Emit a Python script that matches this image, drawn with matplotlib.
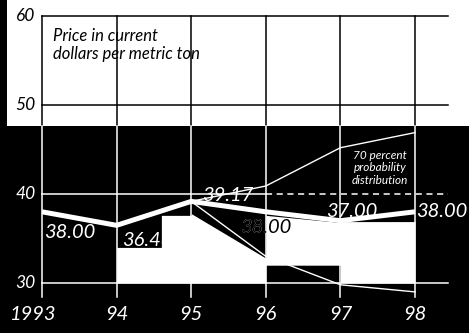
import matplotlib
matplotlib.use('Agg')
import matplotlib.pyplot as plt
from matplotlib import font_manager
from matplotlib.patches import Rectangle

# 选一个有斜体的字体
italic_family = 'DejaVu Sans'
for fam in ['Lato', 'Open Sans', 'Roboto', 'Noto Sans']:
    if any(f.name == fam and f.style == 'italic' for f in font_manager.fontManager.ttflist):
        italic_family = fam
        break
plt.rcParams['font.family'] = [italic_family, 'DejaVu Sans']
plt.rcParams['font.style'] = 'italic'

# 数据
years = [1993, 1994, 1995, 1996, 1997, 1998]
year_labels = ['1993', '94', '95', '96', '97', '98']
price = [38.00, 36.48, 39.17, 38.00, 37.00, 38.00]
price_labels = ['38.00', '36.48', '39.17', '38.00', '37.00', '38.00']
y_ticks = [30, 40, 50, 60]

# 70% 概率分布上下界
band_years = [1995, 1996, 1997, 1998]
band_upper = [39.17, 40.9, 45.2, 46.9]
band_lower = [39.17, 33.0, 29.8, 29.0]

# 扫描件中的白色块
shade_x = [1994.0, 1994.6, 1994.6, 1995.0, 1995.0, 1996.0, 1996.0, 1997.0, 1997.0, 1998.0]
shade_top = [34.0, 34.0, 37.6, 37.6, 37.8, 32.8, 37.6, 36.8, 36.9, 36.9]
shade_bottom = [30.0, 30.0, 30.0, 30.0, 30.0, 30.0, 32.0, 32.0, 30.0, 30.0]

# 标签偏移 (points)
label_offsets = [(20, -15), (22, -11), (26, 4), (0, -11.5), (8, 6.5), (19, 0)]

x_lo, x_hi = 1992.437, 1998.724
y_lo, y_hi = 24.382, 61.798
dark_top = 47.64

fig = plt.figure(figsize=(4.69, 3.33), dpi=100)
ax = fig.add_axes([0, 0, 1, 1])
ax.set_xlim(x_lo, x_hi)
ax.set_ylim(y_lo, y_hi)
ax.axis('off')

# 背景: 下半部分黑色, 左侧黑条
ax.axhspan(y_lo, dark_top, color='black', lw=0, zorder=0)
ax.axvspan(x_lo, x_lo + 0.094, ymin=(dark_top - y_lo) / (y_hi - y_lo), ymax=1,
           color='black', lw=0, zorder=0)

# 网格线
grid_right = 1998.44
for yv in y_ticks:
    c = 'black' if yv > dark_top else 'white'
    if yv == 40:
        ax.plot([years[0], 1996.0], [yv, yv], color=c, lw=1.1, zorder=1)
        ax.plot([1996.0, grid_right], [yv, yv], color=c, lw=1.1, ls=(0, (4, 3)), zorder=1)
    else:
        ax.plot([years[0], grid_right], [yv, yv], color=c, lw=1.1, zorder=1)
    ax.text(years[0] - 0.09, yv, str(yv), color=c, fontsize=12.5,
            ha='right', va='center')

for yr in years:
    ax.plot([yr, yr], [dark_top, 60], color='black', lw=1.1, zorder=1)
    ax.plot([yr, yr], [28.4, dark_top], color='white', lw=1.1, zorder=1)

# x 轴标签
for yr, lab in zip(years, year_labels):
    xx = yr - 0.12 if lab == '1993' else yr
    ax.text(xx, 26.5, lab, color='white', fontsize=14.5, ha='center', va='center')

# 数值标签 (在白块下面)
for i, (yr, val, lab) in enumerate(zip(years, price, price_labels)):
    ax.annotate(lab, xy=(yr, val), xytext=label_offsets[i], textcoords='offset points',
                color='white', fontsize=14.5, ha='center', va='center', zorder=2)

# 白色块
shade = ax.fill_between(shade_x, shade_bottom, shade_top, color='white', lw=0, zorder=3)

# 96 年标签落在白块上的部分用黑色
clip_path = shade.get_paths()[0]
t = ax.annotate(price_labels[3], xy=(years[3], price[3]), xytext=label_offsets[3],
                textcoords='offset points', color='black', fontsize=14.5,
                ha='center', va='center', zorder=4)
t.set_clip_path(clip_path, ax.transData)

# 概率分布上下界
ax.plot(band_years, band_upper, color='white', lw=1.0, zorder=4)
ax.plot(band_years, band_lower, color='white', lw=1.0, zorder=4)

# 主价格线 (裁剪到 1993-1998 之间)
main_line, = ax.plot(years, price, color='white', lw=3.6, solid_capstyle='butt', zorder=5)
clip_rect = Rectangle((years[0], y_lo), years[-1] - years[0], y_hi - y_lo,
                      transform=ax.transData, visible=False)
ax.add_patch(clip_rect)
main_line.set_clip_path(clip_rect)

# 1993 轴左侧保持黑色
ax.add_patch(Rectangle((x_lo, 36.9), years[0] - 0.015 - x_lo, 2.2,
                       facecolor='black', lw=0, zorder=6))

ax.text(1997.53, 45.0, '70 percent\nprobability\ndistribution', color='white',
        fontsize=8.5, ha='center', va='top', linespacing=1.2, zorder=5)

ax.text(1993.15, 58.6, 'Price in current\ndollars per metric ton', color='black',
        fontsize=12, ha='left', va='top', linespacing=1.1, zorder=5)

plt.savefig('out.png', dpi=100)
plt.close(fig)
